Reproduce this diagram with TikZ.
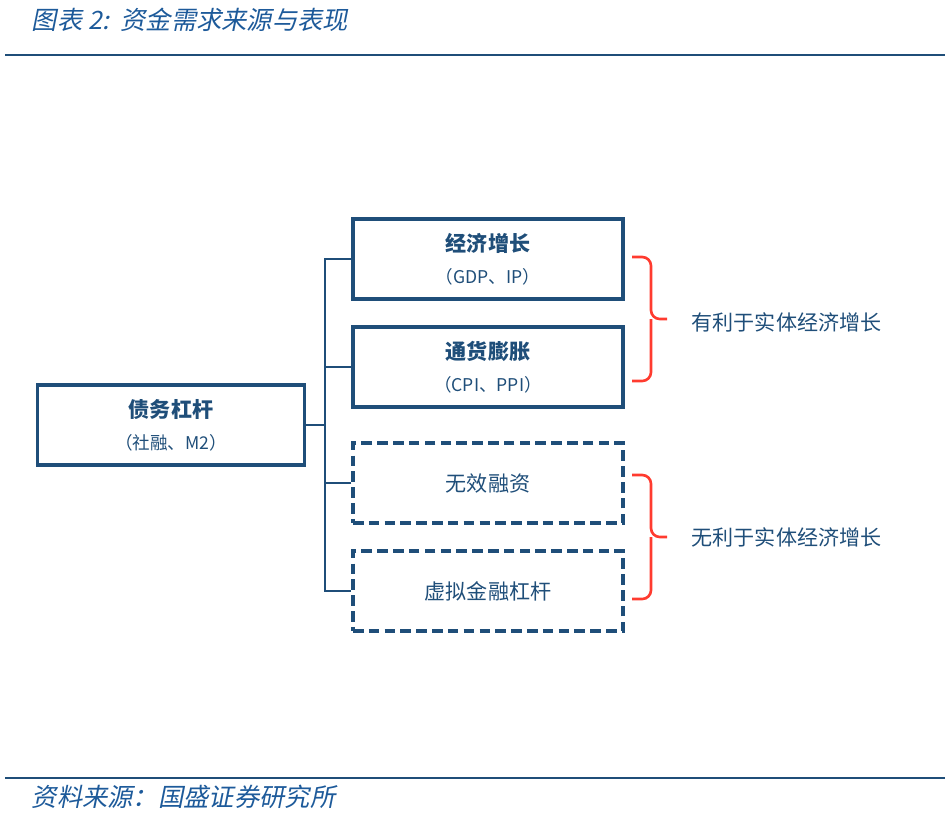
\documentclass[tikz,border=0pt]{standalone}
\usepackage{fontspec}
\setmainfont{Noto Sans CJK SC}
\newfontfamily\slantcjk[FakeSlant=0.2]{Noto Sans CJK SC}
\definecolor{navy}{HTML}{1F4E79}
\definecolor{titleblue}{HTML}{1D5A9A}
\definecolor{bracered}{HTML}{FF3B2F}
\begin{document}
\begin{tikzpicture}[
  x = 0.02cm,
  y = -0.02cm,
  box/.style = {
    draw = navy,
    line width = 2pt,
    minimum width = 5.4cm,
    minimum height = 1.6cm,
    align = center,
    text = navy,
    font = \large
  },
  dashbox/.style = {
    box,
    dashed,
    dash pattern = on 6pt off 3pt
  },
  brace/.style = {
    draw = bracered,
    line width = 1.5pt,
    rounded corners = 5pt
  },
  every path/.style = {
    line width = 1pt
  }
]
  \useasboundingbox (0, 0) rectangle (950, 822);
  % title and rules
  \node[anchor = west, text = titleblue, font = \Large\slantcjk] (title) at (25, 20) {图表 2:\ \ 资金需求来源与表现};
  \draw[navy, line width = 1.5pt] (5, 55) -- (945, 55);
  \draw[navy, line width = 1.5pt] (5, 778) -- (945, 778);
  \node[anchor = west, text = titleblue, font = \Large\slantcjk] (source) at (25, 797) {资料来源：国盛证券研究所};

  % boxes
  \node[box, minimum width = 5.35cm] (debt) at (171, 425) {\textbf{债务杠杆}\\[4pt]{\normalsize （社融、M2）}};
  \node[box] (growth) at (488, 259) {\textbf{经济增长}\\[4pt]{\normalsize （GDP、IP）}};
  \node[box] (infl) at (488, 367) {\textbf{通货膨胀}\\[4pt]{\normalsize （CPI、PPI）}};
  \node[dashbox] (waste) at (488, 483) {无效融资};
  \node[dashbox] (virt) at (488, 591) {虚拟金融杠杆};

  % connectors
  \coordinate (fork) at (325, 425);
  \draw[navy] (debt.east) -- (fork);
  \draw[navy] (growth.west) -| (fork) |- (virt.west);
  \draw[navy] (infl.west) -- (infl.west -| fork);
  \draw[navy] (waste.west) -- (waste.west -| fork);

  % braces
  \draw[brace] (632, 257) -- (651, 257) -- (651, 319) -- (667, 319);
  \draw[brace] (632, 381) -- (651, 381) -- (651, 319);
  \draw[brace] (632, 475) -- (651, 475) -- (651, 537) -- (667, 537);
  \draw[brace] (632, 599) -- (651, 599) -- (651, 537);
  \node[anchor = west, text = navy, font = \large] (goodtext) at (685, 322) {有利于实体经济增长};
  \node[anchor = west, text = navy, font = \large] (badtext) at (685, 537) {无利于实体经济增长};
\end{tikzpicture}
\end{document}
